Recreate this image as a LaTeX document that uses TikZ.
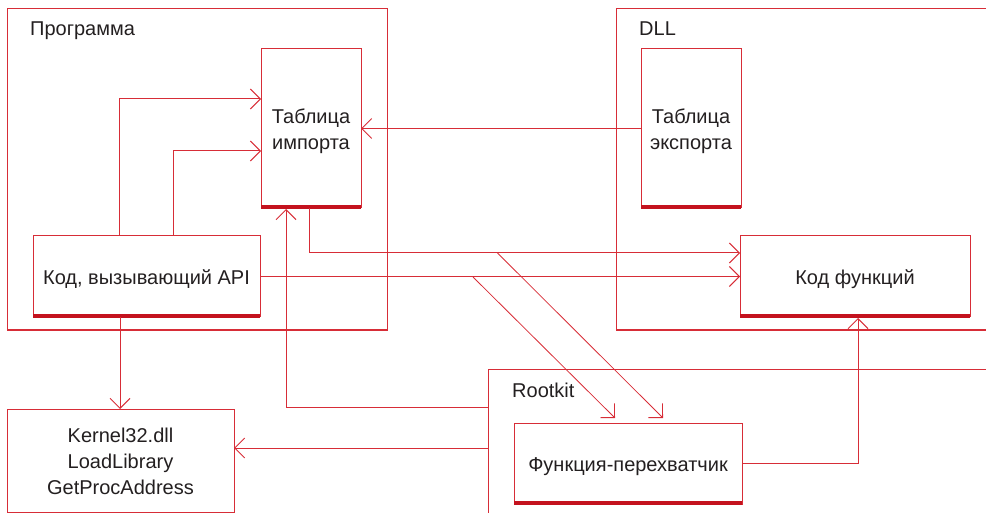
\documentclass[tikz,border=0pt]{standalone}
\usepackage{fontspec}
\setmainfont{Liberation Sans}
\usetikzlibrary{arrows.meta}
\definecolor{ln}{RGB}{215,45,55}
\definecolor{barc}{RGB}{196,18,30}
\definecolor{txt}{RGB}{35,31,32}
\newcommand{\lowtxt}[1]{\raisebox{-3pt}[\height][\depth]{\begin{tabular}{@{}c@{}}#1\end{tabular}}}
\tikzset{
  box/.style={draw=ln, line width=1pt, inner sep=0pt, outer sep=0pt, anchor=north west,
    font=\fontsize{20}{26}\selectfont, text=txt, align=center},
  lbl/.style={inner sep=0pt, anchor=base west, font=\fontsize{20}{26}\selectfont, text=txt},
  arr/.style={draw=ln, line width=1pt, -{Straight Barb[length=10pt,width=20pt]}},
  diag/.style={draw=ln, line width=0.8pt, -{Straight Barb[length=10pt,width=20pt]}},
  barline/.style={fill=barc}
}
\begin{document}
\begin{tikzpicture}[x=1pt,y=-1pt]
\useasboundingbox (0,0) rectangle (986,513);
% containers
\node[box, minimum width=380pt, minimum height=321pt] (prog) at (7,9) {};
\node[lbl] (proglbl) at (30,36) {Программа};
\node[box, minimum width=400pt, minimum height=321pt] (dll) at (616,9) {};
\node[lbl] (dlllbl) at (639,36) {DLL};
\node[box, minimum width=520pt, minimum height=200pt] (rk) at (488,369) {};
\node[lbl] (rklbl) at (512,397) {Rootkit};
% inner boxes
\node[box, minimum width=100pt, minimum height=159pt] (imp) at (261,49) {\lowtxt{Таблица\\импорта}};
\node[box, minimum width=100pt, minimum height=159pt] (exp) at (641,49) {\lowtxt{Таблица\\экспорта}};
\node[box, minimum width=227pt, minimum height=81pt] (api) at (33,236) {\lowtxt{Код, вызывающий API}};
\node[box, minimum width=230pt, minimum height=81pt] (fun) at (740,236) {\lowtxt{Код функций}};
\node[box, minimum width=228pt, minimum height=81pt] (per) at (514,423) {\lowtxt{Функция-перехватчик}};
\node[box, minimum width=227pt, minimum height=103pt] (ker) at (7,409) {\lowtxt{Kernel32.dll\\LoadLibrary\\GetProcAddress}};
% bars
\foreach \n in {imp,exp,api,fun,per}
  \fill[barline] ([yshift=-1pt]\n.south west) rectangle ([yshift=3pt]\n.south east);
% connectors
\draw[arr] ([xshift=86pt]api.north west) |- ([yshift=29.5pt]imp.west);
\draw[arr] ([xshift=140pt]api.north west) |- ([yshift=-22.5pt]imp.west);
\draw[arr] (exp.west) -- (imp.east);
\draw[arr] ([xshift=-2pt]imp.south) |- ([yshift=23.5pt]fun.west);
\draw[arr] (api.east) -- (fun.west);
\coordinate (d1) at (497.5,253);
\coordinate (d2) at (473,277);
\draw[diag] (d1) -- ([xshift=149pt,yshift=5pt]per.north west);
\draw[diag] (d2) -- ([xshift=101pt,yshift=5pt]per.north west);
\draw[arr] ([xshift=87pt]api.south west) -- ([xshift=113pt]ker.north west);
\draw[arr] ([yshift=-38pt]rk.north west) -| ([xshift=-25pt,yshift=-1pt]imp.south);
\draw[arr] ([yshift=-79pt]rk.north west) -- ([yshift=12.5pt]ker.east);
\draw[arr] (per.east) -| ([xshift=3pt,yshift=-1pt]fun.south);
\end{tikzpicture}
\end{document}
